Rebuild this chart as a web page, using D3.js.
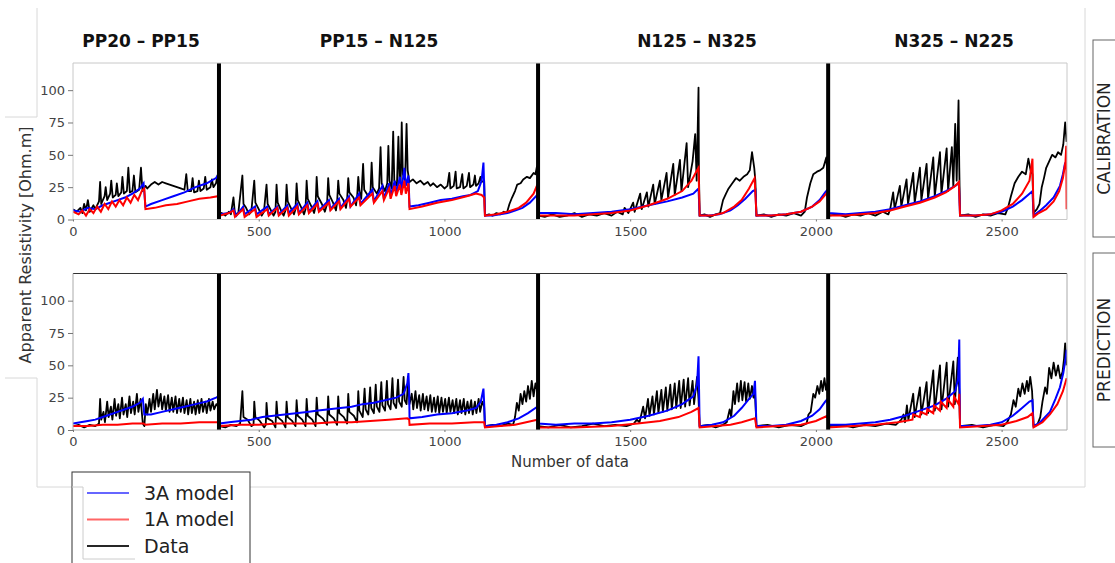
<!DOCTYPE html>
<html lang="en">
  <head>
    <meta charset="UTF-8" />
    <title>Apparent resistivity - calibration and prediction</title>
    <style>
      body {
        margin: 0;
        background: #fff;
      }
      svg {
        font-family: 'DejaVu Sans', sans-serif;
      }
    </style>
  </head>
  <body>
    <svg width="1115" height="563"></svg>
    <script src="https://d3js.org/d3.v7.min.js"></script>
    <script>
      // profile names and where their titles sit (data index)
      const profiles = ['PP20 – PP15', 'PP15 – N125', 'N125 – N325', 'N325 – N225'];
      const titleAt = [183, 824, 1680, 2372];
      const boundaries = [393, 1252, 2033];
      const xTicks = [0, 500, 1000, 1500, 2000, 2500];
      const yTicks = [0, 25, 50, 75, 100];
      const legendLabels = ['3A model', '1A model', 'Data'];

      // calibration: measured data  [index, ohm.m]
      const calData = [
        [0,8],[10,6],[20,9],[25,5],[30,12],[35,7],[40,15],[45,6],[55,11],[60,8],[70,14],[73,29],[76,12],[85,18],[88,25],[92,15],[100,20],[103,30],[107,17],[115,19],[118,28],[122,18],[130,21],[133,33],[137,20],[145,22],[149,40],[153,21],[160,22],[164,34],[168,21],[178,23],[183,40],[187,22],[195,26],[200,24],[210,27],[220,29],[230,27],[240,29],[250,28],[260,27],[270,26],[280,25],[290,24],[300,23],[305,35],[309,22],[318,22],[322,32],[326,21],[335,22],[339,30],[343,22],[352,24],[356,33],[360,23],[370,25],[374,31],[378,25],[385,28],[390,35],[393,30],
        [394,3],[400,5],[410,3],[420,6],[425,4],[432,17],[436,4],[445,5],[456,34],[459,12],[466,9],[474,4],[480,6],[488,30],[491,13],[500,8],[508,3],[514,6],[521,27],[524,12],[533,7],[540,3],[545,6],[548,27],[551,13],[560,7],[567,3],[572,7],[575,27],[578,14],[588,8],[595,4],[599,8],[602,28],[605,15],[615,9],[622,4],[626,8],[629,30],[632,16],[642,10],[649,5],[653,10],[656,33],[659,18],[670,12],[678,6],[684,12],[687,32],[690,19],[700,13],[708,7],[711,13],[714,30],[717,20],[728,15],[735,9],[738,15],[741,32],[744,21],[755,17],[762,11],[765,18],[768,33],[771,22],[776,16],[781,43],[784,23],[795,18],[801,22],[804,44],[807,25],[818,20],[824,24],[828,56],[831,28],[840,22],[846,28],[849,57],[852,30],[858,24],[862,68],[865,30],[872,26],[876,64],[879,32],[882,28],[885,75],[888,35],[894,30],[898,74],[901,38],[905,30],
        [906,29],[915,31],[925,28],[935,30],[945,27],[955,29],[962,26],[970,28],[980,25],[990,27],[1000,24],[1008,26],[1013,36],[1016,24],[1025,26],[1030,37],[1033,24],[1042,25],[1048,35],[1051,24],[1060,26],[1066,36],[1069,25],[1078,27],[1082,34],[1085,26],[1092,28],[1097,33],[1100,29],[1107,30],
        [1109,3],[1120,4],[1130,3],[1140,5],[1150,4],[1160,6],[1168,5],[1175,12],[1182,17],[1190,22],[1196,27],[1205,28],[1212,31],[1222,33],[1230,32],[1240,36],[1245,35],[1249,41],[1251,36],
        [1253,3],[1270,2],[1290,4],[1310,2],[1330,3],[1350,5],[1370,2],[1390,4],[1410,3],[1430,5],[1450,3],[1465,6],[1480,4],[1485,9],[1495,5],[1508,13],[1512,6],[1527,20],[1531,8],[1545,21],[1549,10],[1562,27],[1566,12],[1580,30],[1584,15],[1598,36],[1602,17],[1616,43],[1620,19],[1634,46],[1638,22],[1652,59],[1656,25],[1668,45],[1675,66],[1679,30],[1684,102],[1685,40],
        [1687,3],[1700,4],[1715,2],[1730,4],[1742,5],[1750,15],[1758,20],[1765,24],[1775,28],[1785,32],[1795,30],[1805,33],[1815,35],[1822,38],[1828,52],[1834,40],[1837,30],
        [1840,3],[1860,4],[1880,2],[1900,4],[1920,3],[1940,5],[1960,3],[1970,6],[1976,17],[1985,28],[1993,35],[2003,37],[2011,38],[2020,40],[2028,48],[2031,35],
        [2034,3],[2060,4],[2080,2],[2100,4],[2120,3],[2140,5],[2160,3],[2180,6],[2195,4],[2200,8],[2208,21],[2212,8],[2226,26],[2230,10],[2244,31],[2248,12],[2262,36],[2266,13],[2280,40],[2284,15],[2298,43],[2302,16],[2316,48],[2320,18],[2334,52],[2338,20],[2352,55],[2356,22],[2366,56],[2370,25],[2375,74],[2379,30],[2384,92],[2386,40],
        [2388,3],[2410,4],[2430,2],[2450,4],[2470,3],[2490,5],[2510,4],[2518,10],[2525,18],[2535,28],[2545,33],[2555,37],[2565,35],[2572,47],[2578,38],[2583,35],
        [2586,5],[2595,8],[2602,12],[2608,25],[2614,32],[2620,40],[2628,45],[2636,50],[2645,48],[2652,52],[2660,50],[2666,58],[2671,75],[2675,60]
      ];

      // calibration: 3A model
      const cal3A = [
        [0,7],[20,6],[40,9],[60,8],[80,11],[100,13],[120,15],[140,17],[160,20],[180,24],[190,28],[195,10],[210,12],[240,15],[270,18],[300,21],[330,25],[360,28],[385,32],[392,35],
        [394,4],[420,5],[432,8],[440,3],[458,10],[462,4],[490,10],[494,4],[523,10],[527,4],[550,10],[554,4],[577,11],[581,5],[604,12],[608,5],[631,13],[635,6],[658,14],[662,7],[689,15],[693,8],[716,16],[720,9],[743,18],[747,10],[770,20],[774,12],[806,23],[810,14],[833,26],[837,16],[851,28],[855,18],[866,30],[870,20],[880,33],[884,22],[892,40],[896,26],[903,34],
        [906,10],[930,11],[960,13],[990,15],[1020,16],[1050,18],[1070,19],[1090,22],[1100,30],[1105,44],[1107,25],
        [1109,3],[1130,3],[1150,4],[1170,5],[1190,7],[1210,9],[1230,13],[1250,19],
        [1253,5],[1300,5],[1350,4],[1400,5],[1450,6],[1500,8],[1550,11],[1600,14],[1640,17],[1670,20],[1684,24],
        [1687,3],[1710,3],[1740,4],[1770,7],[1790,11],[1810,16],[1830,22],[1837,23],
        [1840,3],[1880,3],[1920,4],[1960,6],[1990,10],[2010,15],[2025,21],[2031,23],
        [2034,5],[2080,4],[2120,5],[2160,6],[2200,8],[2240,11],[2280,14],[2320,18],[2350,22],[2375,26],[2385,28],
        [2388,3],[2430,3],[2470,4],[2500,6],[2530,10],[2555,15],[2575,20],[2583,22],
        [2586,3],[2604,7],[2620,11],[2640,17],[2657,26],[2665,35],[2671,44],[2675,40]
      ];

      // calibration: 1A model
      const cal1A = [
        [0,6],[15,4],[25,7],[35,3],[45,8],[55,5],[65,10],[75,6],[85,12],[95,8],[105,14],[115,10],[125,15],[135,11],[145,17],[155,13],[165,19],[175,15],[185,22],[192,24],[195,8],[220,9],[250,11],[280,12],[310,14],[340,16],[370,17],[390,18],
        [394,3],[420,5],[432,7],[436,2],[458,8],[462,2],[490,8],[494,2],[523,8],[527,3],[550,9],[554,3],[577,9],[581,3],[604,10],[608,4],[631,11],[635,5],[658,12],[662,6],[689,13],[693,7],[716,14],[720,8],[743,16],[747,10],[770,17],[774,11],[806,20],[810,13],[833,22],[837,15],[851,24],[855,16],[866,26],[870,18],[880,27],[884,19],[892,30],[896,20],[903,28],
        [906,8],[940,10],[980,13],[1020,15],[1060,18],[1085,20],[1100,19],[1107,17],
        [1109,3],[1140,4],[1170,6],[1200,9],[1220,13],[1240,20],[1250,27],
        [1253,3],[1300,3],[1350,3],[1400,4],[1450,5],[1500,7],[1550,11],[1600,16],[1640,22],[1665,30],[1680,38],[1684,40],
        [1687,3],[1720,3],[1750,5],[1780,10],[1800,15],[1820,24],[1835,32],
        [1840,3],[1880,3],[1920,4],[1960,6],[1990,10],[2010,14],[2025,19],[2031,21],
        [2034,3],[2080,3],[2120,4],[2160,5],[2200,7],[2240,10],[2280,13],[2320,17],[2350,21],[2375,26],[2385,29],
        [2388,3],[2430,3],[2470,4],[2500,7],[2530,12],[2555,20],[2575,30],[2583,47],
        [2586,2],[2600,5],[2620,8],[2640,14],[2655,22],[2665,32],[2672,45],[2674,57],[2675,8]
      ];

      // prediction: measured data
      const predData = [
        [0,3],[15,4],[30,2],[45,4],[60,3],[70,5],[73,24],[76,8],[82,14],[86,6],[92,22],[96,10],[102,18],[106,8],[112,24],[116,11],[122,20],[126,9],[132,25],[136,12],[142,20],[146,10],[152,26],[156,13],[162,22],[166,12],[172,28],[176,14],[182,24],[188,5],[192,3],[196,20],[200,12],[206,24],[210,14],[216,28],[220,16],[226,31],[230,18],[236,28],[240,16],[246,26],[250,15],[256,27],[260,14],[266,25],[270,14],[276,26],[280,13],[286,24],[290,14],[296,25],[300,13],[306,23],[310,12],[316,24],[320,13],[326,22],[330,12],[336,23],[340,13],[346,24],[350,14],[356,22],[360,13],[366,24],[370,15],[376,22],[380,16],[386,20],[392,18],
        [394,3],[410,2],[425,4],[440,3],[450,5],[456,30],[459,10],[470,8],[480,3],[486,4],[488,22],[491,10],[503,7],[515,2],[519,4],[521,21],[524,9],[536,7],[545,2],[548,22],[551,10],[563,7],[572,2],[575,22],[578,10],[590,7],[599,3],[602,23],[605,11],[617,8],[626,3],[629,24],[632,11],[644,8],[653,3],[656,25],[659,12],[672,9],[684,4],[687,26],[690,12],[702,9],[711,4],[714,26],[717,13],[729,10],[738,5],[741,28],[744,14],[756,11],[765,6],[768,30],[771,15],[780,10],[785,32],[788,16],[795,12],[800,33],[803,17],[810,13],[815,35],[818,18],[825,14],[830,37],[833,19],[840,15],[845,38],[848,20],[855,16],[860,40],[863,21],[870,17],[875,39],[878,22],[885,18],[890,41],[893,23],[898,20],[902,38],[905,25],
        [906,20],[912,28],[916,16],[922,30],[926,17],[932,27],[936,15],[942,28],[946,16],[952,26],[956,15],[962,27],[966,14],[972,25],[976,14],[982,26],[986,13],[992,25],[996,14],[1002,24],[1006,13],[1012,25],[1016,14],[1022,23],[1026,13],[1032,24],[1036,12],[1042,23],[1046,13],[1052,24],[1056,12],[1062,22],[1066,13],[1072,23],[1076,12],[1082,22],[1086,13],[1092,24],[1096,14],[1102,22],[1107,18],
        [1109,3],[1130,4],[1150,3],[1170,5],[1185,4],[1190,10],[1195,21],[1200,15],[1205,28],[1210,20],[1215,30],[1220,22],[1225,34],[1230,24],[1235,38],[1240,26],[1245,36],[1250,30],
        [1253,3],[1280,2],[1310,4],[1340,2],[1370,3],[1400,5],[1430,3],[1460,4],[1490,3],[1510,5],[1518,8],[1525,6],[1535,18],[1540,9],[1548,24],[1552,11],[1560,26],[1564,12],[1572,30],[1576,13],[1584,31],[1588,14],[1596,33],[1600,15],[1608,35],[1612,16],[1620,36],[1624,17],[1632,38],[1636,17],[1644,39],[1648,18],[1656,40],[1660,19],[1668,38],[1672,20],[1680,41],[1684,24],
        [1687,3],[1710,4],[1730,2],[1750,4],[1760,6],[1768,16],[1772,10],[1778,30],[1782,20],[1788,36],[1792,22],[1798,38],[1802,23],[1808,37],[1812,22],[1818,36],[1822,24],[1828,34],[1832,25],[1836,28],
        [1840,3],[1870,4],[1900,2],[1930,4],[1960,3],[1975,5],[1980,12],[1986,14],[1993,28],[1998,25],[2004,34],[2009,28],[2014,38],[2018,30],[2023,40],[2027,31],[2031,36],
        [2034,3],[2070,4],[2100,2],[2130,4],[2160,3],[2190,5],[2215,4],[2230,8],[2236,12],[2240,6],[2245,19],[2249,8],[2262,28],[2266,10],[2280,33],[2284,12],[2298,37],[2302,13],[2316,46],[2320,15],[2334,50],[2338,16],[2352,52],[2356,18],[2370,53],[2374,20],[2382,56],[2386,30],
        [2388,3],[2420,4],[2450,2],[2480,4],[2505,3],[2515,6],[2525,12],[2532,23],[2538,18],[2545,32],[2550,26],[2556,36],[2562,28],[2568,38],[2572,30],[2577,41],[2582,30],
        [2586,3],[2596,4],[2604,10],[2610,22],[2617,33],[2622,28],[2628,48],[2634,40],[2640,52],[2646,42],[2652,50],[2658,40],[2664,45],[2668,55],[2671,67],[2675,50]
      ];

      // prediction: 3A model
      const pred3A = [
        [0,5],[20,6],[40,7],[60,8],[80,10],[100,12],[120,14],[140,16],[160,18],[180,21],[188,24],[192,12],[210,12],[240,14],[270,16],[300,18],[330,20],[360,22],[385,25],[392,26],
        [394,5],[420,6],[450,7],[480,8],[510,10],[540,11],[570,12],[600,13],[630,14],[660,15],[690,16],[720,17],[750,18],[780,20],[810,21],[840,23],[870,25],[890,28],[900,36],[903,44],[905,30],
        [906,9],[940,10],[980,12],[1020,13],[1060,15],[1085,17],[1098,22],[1105,32],[1107,20],
        [1109,3],[1140,4],[1170,6],[1200,9],[1225,13],[1250,18],
        [1253,5],[1300,4],[1350,5],[1400,5],[1450,6],[1500,8],[1550,11],[1600,15],[1640,20],[1670,26],[1680,35],[1684,57],
        [1687,3],[1720,4],[1750,6],[1780,11],[1800,17],[1820,24],[1832,28],[1836,38],
        [1840,3],[1880,3],[1920,4],[1960,7],[1990,11],[2010,16],[2025,22],[2031,24],
        [2034,4],[2080,4],[2120,5],[2160,6],[2200,8],[2240,11],[2280,15],[2320,19],[2350,24],[2375,30],[2383,40],[2386,70],
        [2388,3],[2430,3],[2470,4],[2500,6],[2530,11],[2555,17],[2575,22],[2583,23],
        [2586,3],[2604,6],[2630,14],[2645,24],[2657,33],[2666,44],[2672,55],[2675,62]
      ];

      // prediction: 1A model
      const pred1A = [
        [0,3],[40,3],[80,4],[120,4],[160,5],[190,5],[195,4],[240,5],[290,5],[340,6],[390,6],
        [394,3],[450,4],[500,4],[550,5],[600,5],[650,5],[700,6],[750,6],[800,7],[850,8],[900,9],[905,8],
        [906,4],[960,5],[1020,5],[1080,6],[1107,6],
        [1109,2],[1150,3],[1190,4],[1220,6],[1250,8],
        [1253,2],[1350,2],[1450,3],[1520,5],[1580,7],[1630,10],[1665,14],[1684,17],
        [1687,2],[1730,3],[1770,4],[1800,6],[1836,9],
        [1840,2],[1900,3],[1960,4],[2000,7],[2031,11],
        [2034,2],[2100,3],[2160,4],[2220,6],[2260,8],[2262,12],[2280,10],[2282,14],[2298,12],[2300,16],[2316,13],[2318,19],[2334,15],[2336,22],[2352,17],[2354,24],[2370,18],[2372,26],[2384,20],[2386,28],
        [2388,2],[2450,3],[2500,4],[2540,7],[2570,10],[2583,13],
        [2586,2],[2610,6],[2630,12],[2650,20],[2665,30],[2675,40]
      ];

      const svg = d3.select('svg');
      const blue = '#0000ff',
        red = '#ff0000';

      const x = d3.scaleLinear().domain([0, 2676]).range([73, 1067]);

      const panels = [
        { label: 'CALIBRATION', top: 63, bottom: 219.5, box: [40, 237], topSpine: '#c8c8c8', data: calData, m3: cal3A, m1: cal1A },
        { label: 'PREDICTION', top: 273.5, bottom: 430, box: [253, 447], topSpine: '#333', data: predData, m3: pred3A, m1: pred1A },
      ];

      // faint outline of the figure panel
      svg
        .append('path')
        .attr('d', 'M5,117H37V8M1085,8V487H250M72,487H37V378H5')
        .attr('fill', 'none')
        .attr('stroke', '#d8d8d8');

      panels.forEach((p, i) => {
        const y = d3.scaleLinear().domain([0, 121]).range([p.bottom, p.top]);
        const line = d3
          .line()
          .x((d) => x(d[0]))
          .y((d) => y(d[1]));

        svg
          .append('clipPath')
          .attr('id', 'clip' + i)
          .append('rect')
          .attr('x', 73)
          .attr('y', p.top)
          .attr('width', 994)
          .attr('height', p.bottom - p.top);

        const g = svg.append('g').attr('clip-path', 'url(#clip' + i + ')');

        g.append('path').datum(p.data).attr('d', line).attr('fill', 'none').attr('stroke', '#000').attr('stroke-width', 1.8).attr('stroke-linejoin', 'round');
        g.append('path').datum(p.m3).attr('d', line).attr('fill', 'none').attr('stroke', blue).attr('stroke-width', 2);
        g.append('path').datum(p.m1).attr('d', line).attr('fill', 'none').attr('stroke', red).attr('stroke-width', 2);

        // profile separators
        g.selectAll('line.sep')
          .data(boundaries)
          .enter()
          .append('line')
          .attr('x1', (d) => x(d))
          .attr('x2', (d) => x(d))
          .attr('y1', y(0))
          .attr('y2', p.top)
          .attr('stroke', '#000')
          .attr('stroke-width', 4);

        // spines
        svg.append('line').attr('x1', 73).attr('x2', 1067).attr('y1', p.top).attr('y2', p.top).attr('stroke', p.topSpine);
        svg.append('path')
          .attr('d', `M73,${p.top}V${p.bottom}H1067V${p.top}`)
          .attr('fill', 'none')
          .attr('stroke', i === 0 ? '#c8c8c8' : '#aaa');

        const ya = svg
          .append('g')
          .attr('transform', 'translate(73,0)')
          .call(d3.axisLeft(y).tickValues(yTicks).tickSize(5).tickPadding(3));
        const xa = svg
          .append('g')
          .attr('transform', `translate(0,${p.bottom})`)
          .call(d3.axisBottom(x).tickValues(xTicks).tickFormat(d3.format('d')).tickSize(2).tickPadding(5));
        [ya, xa].forEach((a) => {
          a.select('.domain').remove();
          a.selectAll('line').attr('stroke', '#777');
          a.selectAll('text').attr('fill', '#444').style('font-size', '13px').style('font-family', 'DejaVu Sans');
        });

        // right-hand label box
        svg
          .append('rect')
          .attr('x', 1093)
          .attr('y', p.box[0])
          .attr('width', 40)
          .attr('height', p.box[1] - p.box[0])
          .attr('fill', 'none')
          .attr('stroke', '#666');
        svg
          .append('text')
          .attr('transform', `translate(1104,${(p.box[0] + p.box[1]) / 2}) rotate(-90)`)
          .attr('text-anchor', 'middle')
          .attr('dy', '0.35em')
          .style('font-size', '17px')
          .attr('fill', '#222')
          .text(p.label);
      });

      // profile titles
      svg
        .selectAll('text.title')
        .data(profiles)
        .enter()
        .append('text')
        .attr('class', 'title')
        .attr('x', (d, i) => x(titleAt[i]))
        .attr('y', 47)
        .attr('text-anchor', 'middle')
        .style('font-size', '17px')
        .style('font-weight', 'bold')
        .attr('fill', '#111')
        .text((d) => d);

      svg
        .append('text')
        .attr('x', 570)
        .attr('y', 467)
        .attr('text-anchor', 'middle')
        .style('font-size', '15px')
        .attr('fill', '#333')
        .text('Number of data');

      svg
        .append('text')
        .attr('transform', 'translate(25,245) rotate(-90)')
        .attr('text-anchor', 'middle')
        .attr('dy', '0.35em')
        .style('font-size', '16px')
        .attr('fill', '#333')
        .text('Apparent Resistivity [Ohm.m]');

      // legend
      const legend = svg.append('g');
      legend.append('rect').attr('x', 72).attr('y', 472).attr('width', 178).attr('height', 100).attr('fill', '#fff').attr('stroke', '#333');
      legend.append('path').attr('d', 'M72,487H83V559H135').attr('fill', 'none').attr('stroke', '#ccc');
      const legendColors = [blue, red, '#000'];
      const item = legend
        .selectAll('g.item')
        .data(legendLabels)
        .enter()
        .append('g')
        .attr('transform', (d, i) => `translate(0,${493 + i * 26.5})`);
      item
        .append('line')
        .attr('x1', 87)
        .attr('x2', 129)
        .attr('stroke', (d, i) => legendColors[i])
        .attr('stroke-opacity', (d, i) => (i < 2 ? 0.6 : 0.85))
        .attr('stroke-width', 2);
      item
        .append('text')
        .attr('x', 144)
        .attr('dy', '0.35em')
        .style('font-size', '19px')
        .attr('fill', '#222')
        .text((d) => d);
    </script>
  </body>
</html>
